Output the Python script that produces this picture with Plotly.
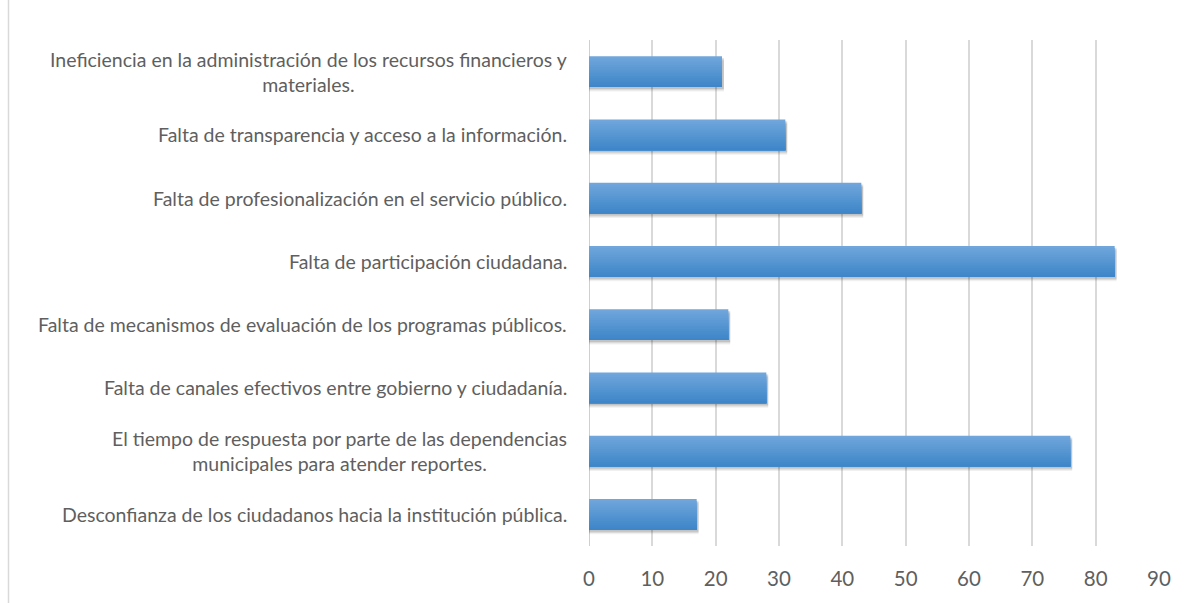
import plotly.graph_objects as go

categories = [
    "Ineficiencia en la administración de los recursos financieros y<br>materiales.",
    "Falta de transparencia y acceso a la información.",
    "Falta de profesionalización en el servicio público.",
    "Falta de participación ciudadana.",
    "Falta de mecanismos de evaluación de los programas públicos.",
    "Falta de canales efectivos entre gobierno y ciudadanía.",
    "El tiempo de respuesta por parte de las dependencias<br>municipales para atender reportes.",
    "Desconfianza de los ciudadanos hacia la institución pública.",
]
values = [21, 31, 43, 83, 22, 28, 76, 17]
x_ticks = [0, 10, 20, 30, 40, 50, 60, 70, 80, 90]

W, H = 1193, 603
L, R, T, B = 589, 34, 40, 57
text_color = "#5f5f5f"
font_family = "Lato, 'Noto Sans', sans-serif"

fig = go.Figure()
pos = list(range(len(categories)))
bar_w = 0.49

# soft shadow below/right of the bars
for k, a in [(0.07, 0.06), (0.05, 0.09), (0.03, 0.11)]:
    fig.add_trace(go.Bar(
        y=pos, x=[v + 0.3 for v in values], orientation="h",
        width=bar_w, offset=-bar_w / 2 + k,
        marker=dict(color=f"rgba(0,0,0,{a})", line=dict(width=0)),
        hoverinfo="skip", showlegend=False,
    ))

# vertical gradient: layered bars, each covering from its start to the bar bottom
n = 14
top = (112, 166, 220)
bot = (62, 134, 200)
sw = bar_w / n
for i in range(n):
    t = i / (n - 1)
    c = tuple(round(top[j] + (bot[j] - top[j]) * t) for j in range(3))
    fig.add_trace(go.Bar(
        y=pos, x=values, orientation="h",
        width=bar_w - i * sw, offset=-bar_w / 2 + i * sw,
        marker=dict(color=f"rgb{c}", line=dict(width=0)),
        hoverinfo="skip" if i else "x", showlegend=False,
    ))

for i, cat in enumerate(categories):
    fig.add_annotation(
        x=0, xref="paper", xanchor="right", xshift=-20,
        y=i, yref="y", yanchor="middle",
        text=cat, showarrow=False, align="center",
        font=dict(family=font_family, size=19.5, color=text_color),
    )

pw = W - L - R
ph = H - T - B
fig.add_shape(type="line", xref="paper", yref="paper",
              x0=(8.5 - L) / pw, x1=(8.5 - L) / pw,
              y0=-B / ph, y1=1 + T / ph,
              line=dict(color="#d9d9d9", width=1.5))
fig.add_shape(type="line", xref="x", yref="paper", x0=0, x1=0, y0=0, y1=1,
              line=dict(color="#bfbfbf", width=1.5), layer="below")

fig.update_layout(
    width=W, height=H,
    margin=dict(l=L, r=R, t=T, b=B, autoexpand=False),
    plot_bgcolor="white", paper_bgcolor="white",
    barmode="overlay",
    font=dict(family=font_family, color=text_color),
    xaxis=dict(
        range=[0, 90], tickvals=x_ticks, ticktext=[str(t) for t in x_ticks],
        showgrid=True, gridcolor="#d9d9d9", gridwidth=1.5,
        zeroline=False, showline=False,
        ticks="outside", ticklen=14, tickcolor="rgba(0,0,0,0)",
        tickfont=dict(family=font_family, size=20.5, color=text_color),
        fixedrange=True,
    ),
    yaxis=dict(
        range=[7.5, -0.5], showticklabels=False, showgrid=False,
        zeroline=False, showline=False, fixedrange=True,
    ),
)

fig.write_html(
    "out.html",
    config={"displayModeBar": False},
    post_script="document.body.style.margin='0';document.body.style.overflow='hidden';",
)
